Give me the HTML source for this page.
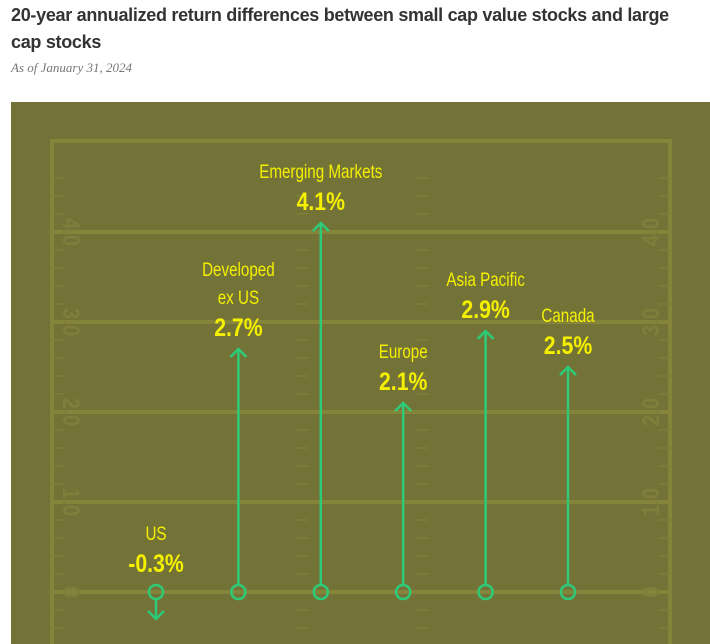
<!DOCTYPE html>
<html><head><meta charset="utf-8"><style>
body{margin:0;width:710px;height:644px;overflow:hidden;background:#fff;font-family:"Liberation Sans",sans-serif}
#title{position:absolute;left:11px;top:2px;width:690px;font-size:18px;line-height:27px;color:#333;font-weight:bold;letter-spacing:-0.3px}
#sub{position:absolute;left:11px;top:60px;font-family:"Liberation Serif",serif;font-style:italic;font-size:13px;color:#777}
svg{position:absolute;left:0;top:0}
</style></head><body>
<div id="title">20-year annualized return differences between small cap value stocks and large cap stocks</div>
<div id="sub">As of January 31, 2024</div>
<svg id="chart" width="710" height="644"></svg>
<script>
const categories=["US","Developed|ex US","Emerging Markets","Europe","Asia Pacific","Canada"];
const values=[-0.3,2.7,4.1,2.1,2.9,2.5];
const labels=["-0.3%","2.7%","4.1%","2.1%","2.9%","2.5%"];
const gridValues=[0,1,2,3,4];
const gridLabels=["0","1.0","2.0","3.0","4.0"];
const NS="http://www.w3.org/2000/svg";
const svg=document.getElementById('chart');
const y0=592,unit=90,L=52,R=670,TOP=141;
const y=v=>y0-v*unit;
const x=i=>156+i*82.4;
function el(t,a,p){const e=document.createElementNS(NS,t);for(const k in a)e.setAttribute(k,a[k]);(p||svg).appendChild(e);return e;}
const bg=el('rect',{x:11,y:102,width:699,height:542,fill:'#737338'});


const gc='#84843b',tc='#7f7f3b';
const border=el('path',{d:`M${L},650 V${TOP} H${R} V650`,stroke:gc,'stroke-width':4,fill:'none'});


for(let k=-2;k<=23;k++){const v=k*0.2;const yy=y(v);if(yy<TOP+5||yy>644)continue;
 if(k%5===0)continue;
 [[L,L+12],[R-12,R],[296,308],[416,428]].forEach(s=>{const t=el('line',{x1:s[0],x2:s[1],y1:yy,y2:yy,stroke:tc,'stroke-width':1.5});
 
 });}
gridValues.forEach((g,i)=>{const yy=y(g);
 const ln=el('line',{x1:L,x2:R,y1:yy,y2:yy,stroke:gc,'stroke-width':4});
 
 
 const t1=el('text',{x:0,y:0,transform:`translate(63,${yy}) rotate(90) scale(0.85,1)`,'text-anchor':'middle','font-size':24,'font-weight':'bold',fill:tc});
 t1.textContent=gridLabels[i];
 
 
 const t2=el('text',{x:0,y:0,transform:`translate(659,${yy}) rotate(-90) scale(0.85,1)`,'text-anchor':'middle','font-size':24,'font-weight':'bold',fill:tc});
 t2.textContent=gridLabels[i];
 
 });
const green='#2dcb78',yel='#f5f000';
values.forEach((v,i)=>{const cx=x(i),ty=y(v);const g=el('g',{});
 
 
 const dir=v>=0?1:-1;
 el('line',{x1:cx,x2:cx,y1:y0+(dir>0?-7:7),y2:ty,stroke:green,'stroke-width':2.5},g);
 el('path',{d:`M${cx-8},${ty+dir*8} L${cx},${ty} L${cx+8},${ty+dir*8}`,stroke:green,'stroke-width':2.5,fill:'none'},g);
 el('circle',{cx:cx,cy:y0,r:7,stroke:green,'stroke-width':2.5,fill:'none'},g);
 const top=v>=0?ty:y0-7;
 const vt=el('text',{x:0,y:0,transform:`translate(${cx},${top-13}) scale(0.85,1)`,'text-anchor':'middle','font-size':25,'font-weight':'bold',fill:yel},g);
 vt.textContent=labels[i];
 const parts=categories[i].split('|');
 parts.forEach((p,j)=>{const nt=el('text',{x:0,y:0,transform:`translate(${cx},${top-45-(parts.length-1-j)*28}) scale(0.8,1)`,'text-anchor':'middle','font-size':19,fill:yel},g);nt.textContent=p;});
});
</script>
</body></html>
